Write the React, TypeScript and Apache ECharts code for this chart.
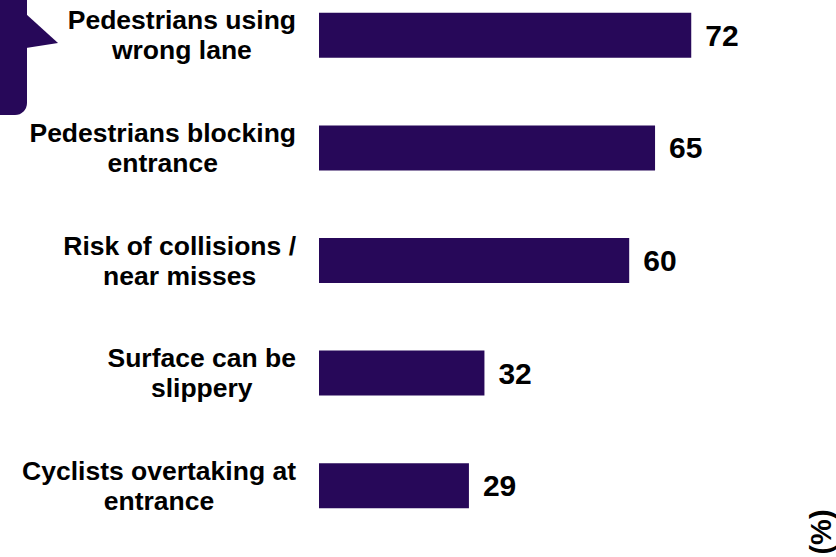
import React, { useEffect, useRef } from "react";
import * as echarts from "echarts";

const categories = [
  "Pedestrians using\nwrong lane",
  "Pedestrians blocking\nentrance",
  "Risk of collisions /\nnear misses",
  "Surface can be\nslippery",
  "Cyclists overtaking at\nentrance",
];
const values = [72, 65, 60, 32, 29];
const unitLabel = "(%)";

const PURPLE = "#270859";
const FONT = "'Liberation Sans', Arial, Helvetica, sans-serif";

export default function App() {
  const ref = useRef<HTMLDivElement>(null);
  useEffect(() => {
    if (!ref.current) return;
    const chart = echarts.init(ref.current, undefined, { renderer: "svg" });
    chart.setOption({
      animation: false,
      backgroundColor: "#ffffff",
      textStyle: { fontFamily: FONT },
      grid: {
        left: 319,
        right: 0,
        top: -21,
        bottom: 15,
        containLabel: false,
        outerBoundsMode: "none",
      },
      xAxis: {
        type: "value",
        min: 0,
        max: 100,
        show: false,
      },
      yAxis: {
        type: "category",
        data: categories,
        inverse: true,
        axisLine: { show: false },
        axisTick: { show: false },
        splitLine: { show: false },
        axisLabel: {
          align: "right",
          margin: 23,
          formatter: (v: string) =>
            v
              .split("\n")
              .map((l) => `{c|${l}}`)
              .join("\n"),
          rich: {
            c: {
              align: "center",
              fontSize: 26.5,
              fontWeight: "bold",
              lineHeight: 30,
              color: "#000000",
              fontFamily: FONT,
            },
          },
        },
      },
      series: [
        {
          type: "bar",
          data: values,
          barWidth: 45,
          itemStyle: { color: PURPLE },
          label: {
            show: true,
            position: "right",
            distance: 14,
            fontSize: 30,
            fontWeight: "bold",
            color: "#000000",
            fontFamily: FONT,
          },
        },
      ],
      graphic: [
        {
          type: "rect",
          shape: { x: -12, y: -20, width: 39, height: 135, r: [0, 12, 12, 0] },
          style: { fill: PURPLE },
          silent: true,
        },
        {
          type: "polygon",
          shape: { points: [[26, 14], [58, 43], [26, 48]] },
          style: { fill: PURPLE },
          silent: true,
        },
        {
          type: "text",
          x: 821,
          y: 532,
          rotation: Math.PI / 2,
          style: {
            text: unitLabel,
            fontSize: 29,
            fontWeight: "bold",
            fill: "#000000",
            fontFamily: FONT,
            align: "center",
            verticalAlign: "middle",
          },
          silent: true,
        },
      ],
    });
    return () => chart.dispose();
  }, []);
  return (
    <div
      ref={ref}
      style={{ position: "fixed", left: 0, top: 0, width: 836, height: 557 }}
    />
  );
}
